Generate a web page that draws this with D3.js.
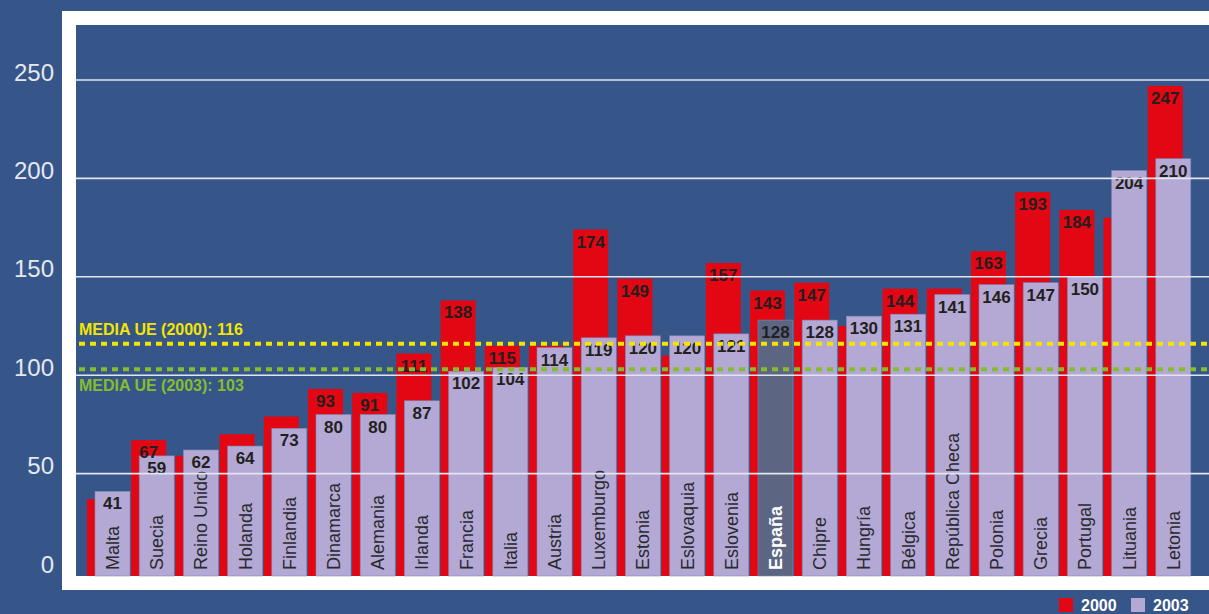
<!DOCTYPE html>
<html>
<head>
<meta charset="utf-8">
<script src="https://cdn.jsdelivr.net/npm/d3@7"></script>
<style>
  html, body { margin: 0; padding: 0; background: #36568a; overflow: hidden; }
  text { font-family: "Liberation Sans", Arial, sans-serif; }
</style>
</head>
<body>
<script>
// datos: indice por pais, 2000 y 2003
const paises = ['Malta', 'Suecia', 'Reino Unido', 'Holanda', 'Finlandia', 'Dinamarca', 'Alemania',
  'Irlanda', 'Francia', 'Italia', 'Austria', 'Luxemburgo', 'Estonia', 'Eslovaquia', 'Eslovenia',
  'España', 'Chipre', 'Hungría', 'Bélgica', 'República Checa', 'Polonia', 'Grecia', 'Portugal',
  'Lituania', 'Letonia']
const valores2000 = [37, 67, 59, 70, 79, 93, 91, 111, 138, 115, 115, 174, 149, 110, 157,
  143, 147, 125, 144, 144, 163, 193, 184, 180, 247]
// solo algunos valores 2000 llevan etiqueta
const etiquetados2000 = ['Suecia', 'Dinamarca', 'Alemania', 'Irlanda', 'Francia', 'Italia',
  'Luxemburgo', 'Estonia', 'Eslovenia', 'España', 'Chipre', 'Bélgica', 'Polonia', 'Grecia',
  'Portugal', 'Letonia']
const valores2003 = [41, 59, 62, 64, 73, 80, 80, 87, 102, 104, 114, 119, 120, 120, 121,
  128, 128, 130, 131, 141, 146, 147, 150, 204, 210]
const ticksY = [0, 50, 100, 150, 200, 250]
const medias = [
  { txt: 'MEDIA UE (2000): 116', v: 116, color: '#f4e500', dy: -9 },
  { txt: 'MEDIA UE (2003): 103', v: 103, color: '#86bd2e', dy: 22 }
]
const leyenda = [{ txt: '2000', color: '#e30613' }, { txt: '2003', color: '#b3a9d4' }]

const W = 1209, H = 614
const ROJO = '#e30613', LILA = '#b3a9d4', ESP = '#5c6683'
const BAR_W = 35, DESP = 8
const ABAJO = 576

const svg = d3.select('body').append('svg')
  .attr('width', W).attr('height', H)

// marco blanco + zona del grafico
svg.append('rect').attr('x', 62).attr('y', 11).attr('width', 1200).attr('height', 579).attr('fill', '#fff')
svg.append('rect').attr('x', 76).attr('y', 25).attr('width', 1200).attr('height', ABAJO - 25).attr('fill', '#36568a')

const x = d3.scaleBand().domain(paises).range([87, 1192]).padding(0)
const y = d3.scaleLinear().domain([0, 250]).range([572, 80])

const datos = paises.map((p, i) => ({ p, a: valores2000[i], b: valores2003[i] }))

// barras 2000
svg.append('g').selectAll('rect').data(datos).join('rect')
  .attr('x', d => x(d.p))
  .attr('y', d => y(d.a))
  .attr('width', BAR_W)
  .attr('height', d => ABAJO - y(d.a))
  .attr('fill', ROJO)

// barras 2003
svg.append('g').selectAll('rect').data(datos).join('rect')
  .attr('x', d => x(d.p) + DESP)
  .attr('y', d => y(d.b))
  .attr('width', BAR_W)
  .attr('height', d => ABAJO - y(d.b))
  .attr('fill', d => d.p === 'España' ? ESP : LILA)
  .attr('stroke', '#7f86b5').attr('stroke-width', 0.6)

// etiquetas de valor
svg.append('g').selectAll('text').data(datos.filter(d => etiquetados2000.includes(d.p))).join('text')
  .attr('x', d => x(d.p) + BAR_W / 2)
  .attr('y', d => y(d.a) + 18)
  .attr('text-anchor', 'middle')
  .attr('font-size', 17).attr('font-weight', 'bold').attr('fill', '#231f20')
  .text(d => d.a)

svg.append('g').selectAll('text').data(datos).join('text')
  .attr('x', d => x(d.p) + DESP + BAR_W / 2)
  .attr('y', d => y(d.b) + 18)
  .attr('text-anchor', 'middle')
  .attr('font-size', 17).attr('font-weight', 'bold').attr('fill', '#231f20')
  .text(d => d.b)

// nombres de paises (verticales)
svg.append('g').selectAll('text').data(datos).join('text')
  .attr('transform', d => `translate(${x(d.p) + DESP + BAR_W / 2},570) rotate(-90)`)
  .attr('dy', '0.36em')
  .attr('font-size', 18)
  .attr('font-weight', d => d.p === 'España' ? 'bold' : 'normal')
  .attr('fill', d => d.p === 'España' ? '#fff' : '#2a2a2e')
  .text(d => d.p)

// lineas de la cuadricula
svg.append('g').selectAll('line').data(ticksY.filter(t => t > 0)).join('line')
  .attr('x1', 76).attr('x2', W)
  .attr('y1', d => y(d)).attr('y2', d => y(d))
  .attr('stroke', '#e2e5ef').attr('stroke-width', 1.6)

// eje y (solo textos)
svg.append('g').selectAll('text').data(ticksY).join('text')
  .attr('x', 54)
  .attr('y', d => y(d) - 8)
  .attr('dy', '0.36em')
  .attr('text-anchor', 'end')
  .attr('font-size', 24).attr('fill', '#e6e8f0')
  .text(d => d)

// medias UE
const gm = svg.append('g')
gm.selectAll('line').data(medias).join('line')
  .attr('x1', 79).attr('x2', W)
  .attr('y1', d => y(d.v)).attr('y2', d => y(d.v))
  .attr('stroke', d => d.color).attr('stroke-width', 4)
  .attr('stroke-dasharray', '6,5')
gm.selectAll('text').data(medias).join('text')
  .attr('x', 79)
  .attr('y', d => y(d.v) + d.dy)
  .attr('font-size', 16).attr('font-weight', 'bold')
  .attr('fill', d => d.color)
  .text(d => d.txt)

// leyenda
const gl = svg.append('g').attr('transform', 'translate(1059,598)')
const item = gl.selectAll('g').data(leyenda).join('g')
  .attr('transform', (d, i) => `translate(${i * 72},0)`)
item.append('rect').attr('width', 14).attr('height', 14).attr('fill', d => d.color)
item.append('text')
  .attr('x', 22).attr('y', 13)
  .attr('font-size', 16).attr('font-weight', 'bold').attr('fill', '#fff')
  .text(d => d.txt)
</script>
</body>
</html>
